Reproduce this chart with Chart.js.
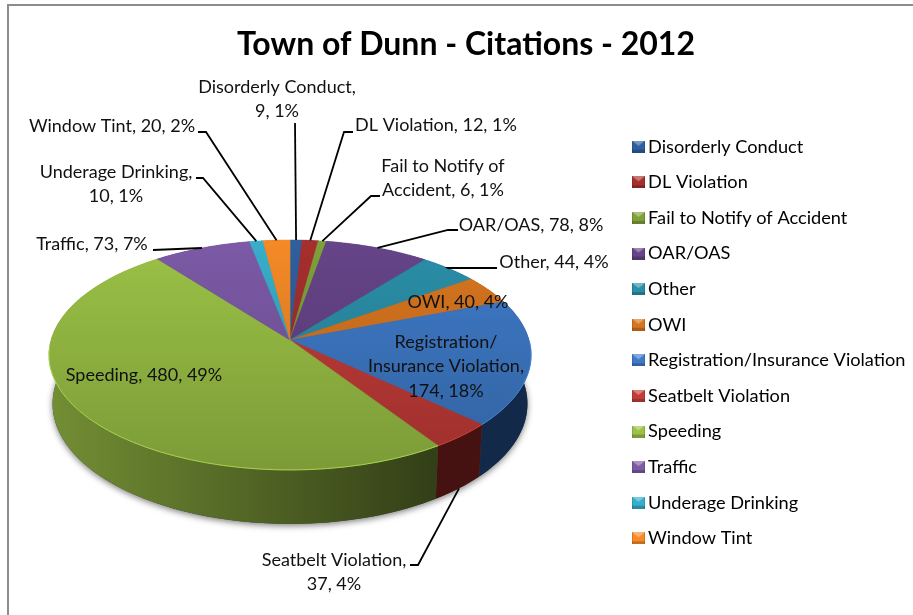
<!DOCTYPE html>
<html><head><meta charset="utf-8">
<style>html,body{margin:0;padding:0;background:#fff}#w{width:913px;height:615px;position:relative}canvas{filter:blur(.4px)}</style>
<script src="https://cdn.jsdelivr.net/npm/chart.js@4"></script>
</head><body><div id="w"><canvas id="c" width="913" height="615"></canvas></div>
<script>
const chartTitle = 'Town of Dunn - Citations - 2012';
const categories = ['Disorderly Conduct','DL Violation','Fail to Notify of Accident','OAR/OAS','Other','OWI','Registration/Insurance Violation','Seatbelt Violation','Speeding','Traffic','Underage Drinking','Window Tint'];
const citations = [9,12,6,78,44,40,174,37,480,73,10,20];
const sliceColors = ['#2f5f9f','#a52f2d','#7fa03a','#664488','#2a8fa8','#d8761f','#3e7ac8','#c43c38','#9bc246','#7c5aa6','#37aecb','#f58a26'];
const wallColors  = ['#16305a','#451211','#3c4d1a','#2f1f45','#144a58','#6e3b0c','#13294a','#451211','#333f17','#3a2955','#1a5a6a','#7a430f'];
const wallLight   = ['#2a4e80','#7a2422','#7a9a38','#4d3570','#226c80','#9c5414','#13294a','#451211','#738f34','#5a4080','#27809a','#aa5e14'];

// label text layout: line breaks, text centre, leader elbow points (page pixels)
const labelLayout = [
 {lines:['Disorderly Conduct,','9, 1%'],x:277,y:87,elbow:[[295,123]]},
 {lines:['DL Violation, 12, 1%'],x:436,y:125,elbow:[[353,132],[344,132]]},
 {lines:['Fail to Notify of','Accident, 6, 1%'],x:443,y:166,elbow:[[380,196],[371,196]]},
 {lines:['OAR/OAS, 78, 8%'],x:531,y:225,elbow:[[458,230],[448,230]]},
 {lines:['Other, 44, 4%'],x:554,y:262,elbow:[[497,268],[448,268]]},
 {lines:['OWI, 40, 4%'],x:458,y:302,elbow:null},
 {lines:['Registration/','Insurance Violation,','174, 18%'],x:446,y:342,elbow:null},
 {lines:['Seatbelt Violation,','37, 4%'],x:334,y:560,elbow:[[410,565],[418,565]],wall:true},
 {lines:['Speeding, 480, 49%'],x:144,y:375,elbow:null},
 {lines:['Traffic, 73, 7%'],x:92,y:244,elbow:[[153,250]]},
 {lines:['Underage Drinking,','10, 1%'],x:116,y:172,elbow:[[196,178],[203,178]]},
 {lines:['Window Tint, 20, 2%'],x:112,y:126,elbow:[[198,132],[206,132]]}
];

const FONT = 'Lato, Carlito, sans-serif';
const PERSP = 0.1304, AX = 239, BY = 113;       // projection of the pie disc
const CX = 290, CY = 340;                       // apex on the page
const LEGEND_LEFT = 620.6, LEGEND_MID = 342.5;

function topPt(theta){
  const u=Math.sin(theta), v=Math.cos(theta), w=1+PERSP*v;
  return {x:CX+AX*u/w, y:CY-BY*v/w, v};
}
function botPt(theta){
  const p=topPt(theta);
  return {x:CX+(p.x-CX)*0.985, y:p.y+48-6*p.v};
}
function bevel(color){
  const s=document.createElement('canvas'); s.width=13; s.height=12;
  const g=s.getContext('2d');
  g.fillStyle=color; g.fillRect(0,0,13,12);
  g.fillStyle='rgba(255,255,255,.35)';
  g.beginPath(); g.moveTo(0,0); g.lineTo(13,0); g.lineTo(6.5,5); g.fill();
  g.fillStyle='rgba(0,0,0,.2)';
  g.fillRect(0,9,13,3);
  g.fillStyle='rgba(0,0,0,.12)'; g.fillRect(0,0,1,12); g.fillRect(12,0,1,12);
  return s;
}
function shade(hex,f){
  const n=parseInt(hex.slice(1),16);
  const ch=s=>Math.min(255,Math.round(((n>>s)&255)*f));
  return 'rgb('+ch(16)+','+ch(8)+','+ch(0)+')';
}
const pie3d = {
  id:'pie3d',
  afterLayout(chart){
    const lg=chart.legend, w=lg.width, h=lg.height;
    lg.left=LEGEND_LEFT; lg.right=LEGEND_LEFT+w;
    lg.top=LEGEND_MID-h/2; lg.bottom=lg.top+h;
  },
  beforeDraw(chart){
    const c=chart.ctx;
    c.save();
    c.strokeStyle='#8c8c8c'; c.lineWidth=2;
    c.beginPath(); c.moveTo(8,615); c.lineTo(8,5); c.lineTo(913,5); c.stroke();
    c.restore();
  },
  beforeDatasetDraw(chart,args){
    const c=chart.ctx, arcs=args.meta.data;
    const th=a=>a+Math.PI/2;
    const n=48;
    // soft shadow under the wall
    c.save();
    c.shadowColor='rgba(0,0,0,.5)'; c.shadowBlur=6; c.shadowOffsetY=2;
    c.fillStyle='#444';
    c.beginPath();
    for(let i=0;i<=180;i++){const p=botPt(i/180*2*Math.PI); i?c.lineTo(p.x,p.y):c.moveTo(p.x,p.y);}
    c.closePath(); c.fill();
    c.restore();
    // side walls
    arcs.forEach((el,i)=>{
      const a=th(el.startAngle), b=th(el.endAngle);
      const g=c.createLinearGradient(48,0,531,0);
      g.addColorStop(0,wallLight[i]); g.addColorStop(.8,wallColors[i]); g.addColorStop(1,wallColors[i]);
      c.fillStyle=g;
      c.beginPath();
      for(let k=0;k<=n;k++){const p=topPt(a+(b-a)*k/n); k?c.lineTo(p.x,p.y):c.moveTo(p.x,p.y);}
      for(let k=n;k>=0;k--){const p=botPt(a+(b-a)*k/n); c.lineTo(p.x,p.y);}
      c.closePath(); c.fill();
    });
    // top faces
    arcs.forEach((el,i)=>{
      const a=th(el.startAngle), b=th(el.endAngle);
      const g=c.createLinearGradient(0,240,0,470);
      g.addColorStop(0,sliceColors[i]); g.addColorStop(1,shade(sliceColors[i],.8));
      c.fillStyle=g; c.strokeStyle=g; c.lineWidth=.6;
      c.beginPath(); c.moveTo(CX,CY);
      for(let k=0;k<=n;k++){const p=topPt(a+(b-a)*k/n); c.lineTo(p.x,p.y);}
      c.closePath(); c.fill(); c.stroke();
      // rim highlight on the front edge
      c.strokeStyle=shade(sliceColors[i],1.08); c.lineWidth=1;
      c.beginPath();
      let on=false;
      for(let k=0;k<=n;k++){const t=a+(b-a)*k/n,p=topPt(t);
        if(Math.cos(t)<0){on?c.lineTo(p.x,p.y):c.moveTo(p.x,p.y);on=true;} }
      c.stroke();
    });
    return false;
  },
  afterDatasetsDraw(chart){
    const c=chart.ctx, arcs=chart.getDatasetMeta(0).data;
    c.save();
    c.font='18px '+FONT; c.textAlign='center'; c.textBaseline='middle';
    labelLayout.forEach((L,i)=>{
      if(L.elbow){
        const el=arcs[i], mid=(el.startAngle+el.endAngle)/2+Math.PI/2;
        const q=L.wall?botPt(mid):topPt(mid);
        c.strokeStyle='#000'; c.lineWidth=1.8;
        c.beginPath(); c.moveTo(L.elbow[0][0],L.elbow[0][1]);
        L.elbow.slice(1).forEach(e=>c.lineTo(e[0],e[1]));
        c.lineTo(q.x,q.y); c.stroke();
      }
      c.fillStyle='#111';
      L.lines.forEach((t,k)=>c.fillText(t,L.x,L.y+k*24.5));
    });
    c.restore();
  }
};
new Chart(document.getElementById('c'),{
  type:'pie',
  data:{labels:categories,datasets:[{data:citations,backgroundColor:sliceColors,borderWidth:0}]},
  plugins:[pie3d],
  options:{
    responsive:false,animation:false,
    layout:{padding:{top:0,left:19,right:0,bottom:0}},
    plugins:{
      tooltip:{enabled:false},
      title:{display:true,text:chartTitle,color:'#000',font:{family:FONT,size:32,weight:'bold'},padding:{top:25,bottom:0}},
      legend:{position:'right',align:'center',
        labels:{color:'#111',font:{family:FONT,size:18.2},usePointStyle:true,boxWidth:1,padding:17.4,
          generateLabels(ch){return categories.map((t,i)=>({text:t,fillStyle:sliceColors[i],strokeStyle:sliceColors[i],lineWidth:0,pointStyle:bevel(sliceColors[i]),index:i}));}
        }
      }
    }
  }
});
</script></body></html>
